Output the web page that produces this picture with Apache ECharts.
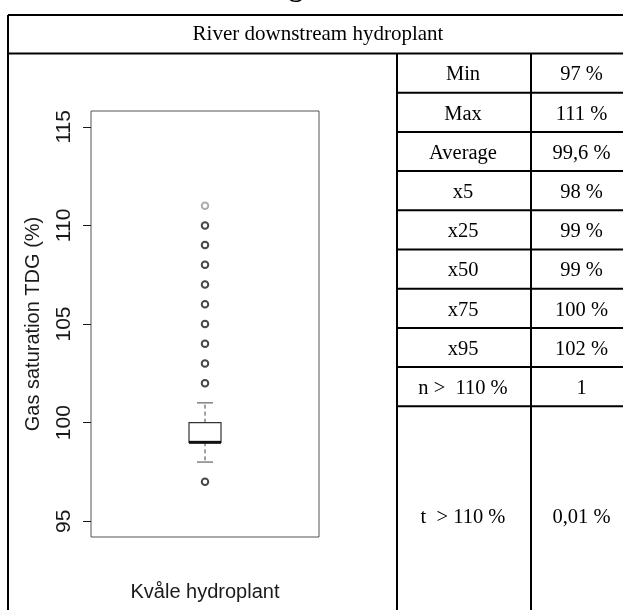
<!DOCTYPE html>
<html>
<head>
<meta charset="utf-8">
<script src="https://cdn.jsdelivr.net/npm/echarts@6/dist/echarts.min.js"></script>
<style>
html,body{margin:0;padding:0;background:#fff;}
#chart{width:623px;height:610px;}
</style>
</head>
<body>
<div id="chart"></div>
<script>
// ---- data ----
var headerTitle = 'River downstream hydroplant';
var categories = ['Kvåle hydroplant'];
var yAxisTitle = 'Gas saturation TDG (%)';
var yTicks = [95, 100, 105, 110, 115];
// [lower whisker, Q1, median, Q3, upper whisker]
var boxStats = [98, 99, 99, 100, 101];
var outliers = [111, 110, 109, 108, 107, 106, 105, 104, 103, 102, 97];
var statLabels = ['Min', 'Max', 'Average', 'x5', 'x25', 'x50', 'x75', 'x95', 'n >  110 %', 't  > 110 %'];
var statValues = ['97 %', '111 %', '99,6 %', '98 %', '99 %', '99 %', '100 %', '102 %', '1', '0,01 %'];

// ---- layout constants ----
var T = {left: 8, top: 15, headerBottom: 53.5, right: 634, bottom: 625, col1: 397, col2: 531, rowH: 39.2};
var serif = '"Liberation Serif","Times New Roman",serif';
var sans = '"Liberation Sans",Arial,sans-serif';

var graphics = [];
function line(x1, y1, x2, y2) {
  graphics.push({type: 'line', shape: {x1: x1, y1: y1, x2: x2, y2: y2},
    style: {stroke: '#000', lineWidth: 2}, silent: true, z: 10});
}
function text(str, x, y, size, weight) {
  graphics.push({type: 'text', x: x, y: y, silent: true, z: 10,
    style: {text: str, font: (weight || 'normal') + ' ' + size + 'px ' + serif,
      fill: '#000', align: 'center', verticalAlign: 'middle'}});
}
// partial page heading cut off at top
graphics.push({type: 'text', x: 296, y: -11.5, silent: true,
  style: {text: 'g', font: 'bold 28px ' + serif, fill: '#000', align: 'center', verticalAlign: 'middle'}});

// outer frame
line(T.left, T.top, T.right, T.top);
line(T.left, T.top, T.left, T.bottom);
line(T.right, T.top, T.right, T.bottom);
line(T.left, T.bottom, T.right, T.bottom);
line(T.left, T.headerBottom, T.right, T.headerBottom);
text(headerTitle, (T.left + T.right) / 2 - 3, (T.top + T.headerBottom) / 2, 21);
// columns
line(T.col1, T.headerBottom, T.col1, T.bottom);
line(T.col2, T.headerBottom, T.col2, T.bottom);
for (var i = 0; i < statLabels.length; i++) {
  var y0 = T.headerBottom + i * T.rowH;
  var y1 = (i === statLabels.length - 1) ? T.bottom : y0 + T.rowH;
  if (i < statLabels.length - 1) line(T.col1, y1, T.right, y1);
  var cy = (y0 + y1) / 2 + 2;
  text(statLabels[i], (T.col1 + T.col2) / 2 - 1, cy, 20.5);
  text(statValues[i], (T.col2 + T.right) / 2 - 1, cy, 20.5);
}

var maxOut = Math.max.apply(null, outliers);
var outlierData = outliers.map(function (v) {
  return {value: [0, v], itemStyle: {borderColor: v === maxOut ? '#999' : '#1a1a1a'}};
});

var option = {
  animation: false,
  backgroundColor: '#fff',
  grid: {left: 91, top: 111, width: 228, height: 426, show: true,
    borderColor: '#555', borderWidth: 1, backgroundColor: 'transparent'},
  xAxis: {
    type: 'category', data: categories,
    axisLine: {show: false}, axisTick: {show: false}, splitLine: {show: false},
    axisLabel: {margin: 45, fontFamily: sans, fontSize: 20, color: '#1a1a1a'}
  },
  yAxis: {
    type: 'value', min: 94.2, max: 115.8,
    name: yAxisTitle, nameLocation: 'middle', nameGap: 48,
    nameTextStyle: {fontFamily: sans, fontSize: 20, color: '#1a1a1a'},
    axisLine: {show: false},
    axisTick: {show: true, length: 8, customValues: yTicks, lineStyle: {color: '#1a1a1a'}},
    axisLabel: {customValues: yTicks, rotate: 90, margin: 16, fontFamily: sans, fontSize: 21, color: '#1a1a1a'},
    splitLine: {show: false}
  },
  series: [{
    type: 'custom',
    data: [[0].concat(boxStats)],
    renderItem: function (params, api) {
      var x = api.coord([api.value(0), api.value(1)])[0];
      var yLo = api.coord([0, api.value(1)])[1];
      var yQ1 = api.coord([0, api.value(2)])[1];
      var yMed = api.coord([0, api.value(3)])[1];
      var yQ3 = api.coord([0, api.value(4)])[1];
      var yHi = api.coord([0, api.value(5)])[1];
      var hw = 16, cw = 8;
      var dash = {stroke: '#444', lineWidth: 1, lineDash: [4, 3]};
      return {type: 'group', children: [
        {type: 'line', shape: {x1: x, y1: yQ3, x2: x, y2: yHi}, style: dash},
        {type: 'line', shape: {x1: x, y1: yQ1, x2: x, y2: yLo}, style: dash},
        {type: 'line', shape: {x1: x - cw, y1: yHi, x2: x + cw, y2: yHi}, style: {stroke: '#444', lineWidth: 1}},
        {type: 'line', shape: {x1: x - cw, y1: yLo, x2: x + cw, y2: yLo}, style: {stroke: '#444', lineWidth: 1}},
        {type: 'rect', shape: {x: x - hw, y: yQ3, width: 2 * hw, height: yQ1 - yQ3}, style: {stroke: '#333', lineWidth: 1.2, fill: '#fff'}},
        {type: 'line', shape: {x1: x - hw, y1: yMed, x2: x + hw, y2: yMed}, style: {stroke: '#111', lineWidth: 3}}
      ]};
    }
  }, {
    type: 'scatter',
    data: outlierData,
    symbol: 'circle', symbolSize: 6.5,
    itemStyle: {color: '#fff', borderColor: '#1a1a1a', borderWidth: 2}
  }],
  graphic: graphics
};

var chart = echarts.init(document.getElementById('chart'), null, {renderer: 'canvas'});
chart.setOption(option);
</script>
</body>
</html>
